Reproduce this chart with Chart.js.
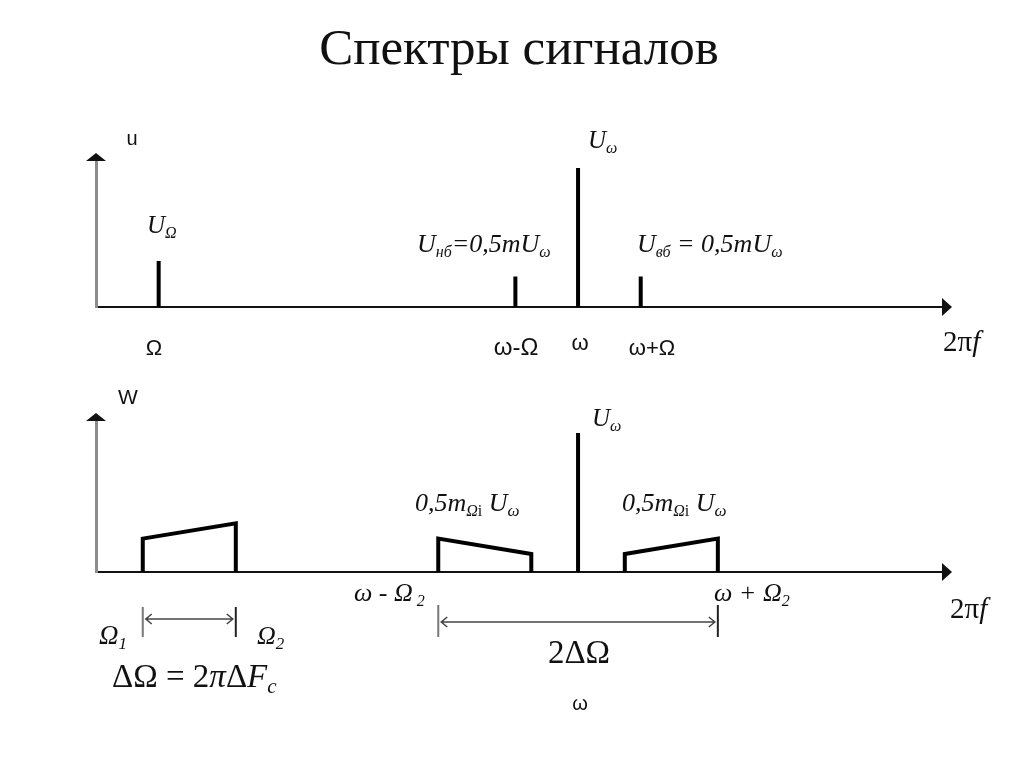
<!DOCTYPE html>
<html>
<head>
<meta charset="utf-8">
<title>Спектры сигналов</title>
<script src="https://cdn.jsdelivr.net/npm/chart.js@4"></script>
<style>
body { margin: 0; background: #fff; }
#wrap { position: relative; width: 1024px; height: 767px; }
canvas { position: absolute; left: 0; }
#topChart { top: 0; }
#bottomChart { top: 380px; }
</style>
</head>
<body>
<div id="wrap">
  <canvas id="topChart" width="1024" height="380"></canvas>
  <canvas id="bottomChart" width="1024" height="387"></canvas>
</div>
<script>
// frequency axis in arbitrary units, carrier w = 100
var carrier = 100;
var modFreq = 13;      // Ω
var bandLow = 9.7;     // Ω1
var bandHigh = 29;     // Ω2
var xMax = 175.5;

// top spectrum: tone modulation, amplitudes relative to Uω
var toneFreqs = [modFreq, carrier - modFreq, carrier, carrier + modFreq];
var toneAmps = [0.33, 0.22, 1, 0.22];

// bottom spectrum: band signal, levels at the band edges
var carrierAmp = 1;
var baseBandLevels = [0.24, 0.35];
var lowerSideLevels = [0.24, 0.13];
var upperSideLevels = [0.13, 0.24];

var SERIF = '"Liberation Serif", "Times New Roman", serif';
var SANS = '"Liberation Sans", Arial, sans-serif';

function sticks(freqs, amps) {
    var pts = [];
    freqs.forEach(function (f, i) {
        pts.push({ x: f, y: 0 }, { x: f, y: amps[i] }, { x: f, y: null });
    });
    return pts;
}

function band(x0, x1, levels) {
    return [{ x: x0, y: 0 }, { x: x0, y: levels[0] }, { x: x1, y: levels[1] }, { x: x1, y: 0 }];
}

function lineSet(data) {
    return {
        data: data,
        showLine: true,
        borderColor: '#000',
        borderWidth: 4,
        borderCapStyle: 'butt',
        borderJoinStyle: 'miter',
        pointRadius: 0,
        spanGaps: false,
        tension: 0
    };
}

function axes(yMax) {
    return {
        x: {
            type: 'linear', min: 0, max: xMax,
            grid: { display: false, drawTicks: false },
            ticks: { display: false },
            border: { display: true, color: '#111', width: 2 }
        },
        y: {
            type: 'linear', min: 0, max: yMax,
            grid: { display: false, drawTicks: false },
            ticks: { display: false },
            border: { display: true, color: '#8c8c8c', width: 3 }
        }
    };
}

// text runs
function it(t, s, dy) { return { t: t, f: 'italic ' + s + 'px ' + SERIF, dy: dy || 0 }; }
function rm(t, s, dy) { return { t: t, f: s + 'px ' + SERIF, dy: dy || 0 }; }
function sans(t, s) { return { t: t, f: s + 'px ' + SANS, dy: 0 }; }

function richText(ctx, lab) {
    var w = 0;
    lab.r.forEach(function (r) { ctx.font = r.f; r.w = ctx.measureText(r.t).width; w += r.w; });
    var cx = lab.a === 'center' ? lab.x - w / 2 : lab.x;
    ctx.textAlign = 'left';
    ctx.textBaseline = 'alphabetic';
    ctx.fillStyle = '#111';
    lab.r.forEach(function (r) {
        ctx.font = r.f;
        ctx.fillText(r.t, cx, lab.y + r.dy);
        cx += r.w;
    });
}

function arrows(ctx, area) {
    ctx.fillStyle = '#111';
    ctx.beginPath();
    ctx.moveTo(area.left, area.top - 8);
    ctx.lineTo(area.left - 10, area.top);
    ctx.lineTo(area.left + 10, area.top);
    ctx.closePath();
    ctx.fill();
    ctx.beginPath();
    ctx.moveTo(area.right + 10, area.bottom);
    ctx.lineTo(area.right, area.bottom - 9);
    ctx.lineTo(area.right, area.bottom + 9);
    ctx.closePath();
    ctx.fill();
}

function dimension(ctx, x0, x1, t0, t1, y) {
    ctx.save();
    ctx.lineWidth = 2;
    ctx.strokeStyle = '#777';
    ctx.beginPath();
    ctx.moveTo(x0, t0); ctx.lineTo(x0, t1);
    ctx.stroke();
    ctx.strokeStyle = '#222';
    ctx.beginPath();
    ctx.moveTo(x1, t0); ctx.lineTo(x1, t1);
    ctx.stroke();
    ctx.strokeStyle = '#444';
    ctx.lineWidth = 1.5;
    ctx.beginPath();
    ctx.moveTo(x0 + 3, y); ctx.lineTo(x1 - 3, y);
    ctx.moveTo(x0 + 9, y - 5); ctx.lineTo(x0 + 3, y); ctx.lineTo(x0 + 9, y + 5);
    ctx.moveTo(x1 - 9, y - 5); ctx.lineTo(x1 - 3, y); ctx.lineTo(x1 - 9, y + 5);
    ctx.stroke();
    ctx.restore();
}

function decor(labels, extra) {
    return {
        id: 'decor',
        afterDraw: function (chart) {
            var ctx = chart.ctx;
            ctx.save();
            arrows(ctx, chart.chartArea);
            labels.forEach(function (lab) { richText(ctx, lab); });
            if (extra) extra(chart);
            ctx.restore();
        }
    };
}

var topLabels = [
    { x: 132, y: 145, a: 'center', r: [sans('u', 20)] },
    { x: 147, y: 233, a: 'left', r: [it('U', 25), it('Ω', 16, 5)] },
    { x: 154, y: 355, a: 'center', r: [sans('Ω', 22)] },
    { x: 516, y: 355, a: 'center', r: [sans('ω-Ω', 24)] },
    { x: 580, y: 350, a: 'center', r: [sans('ω', 22)] },
    { x: 652, y: 355, a: 'center', r: [sans('ω+Ω', 22)] },
    { x: 943, y: 351, a: 'left', r: [rm('2π', 29), it('f', 29)] },
    { x: 588, y: 148, a: 'left', r: [it('U', 25), it('ω', 16, 5)] },
    { x: 417, y: 252, a: 'left', r: [it('U', 26), it('нб', 16, 5), it('=0,5mU', 26), it('ω', 16, 5)] },
    { x: 637, y: 252, a: 'left', r: [it('U', 26), it('вб', 16, 5), it(' = 0,5mU', 26), it('ω', 16, 5)] }
];

var bottomLabels = [
    { x: 128, y: 24, a: 'center', r: [sans('W', 21)] },
    { x: 592, y: 46, a: 'left', r: [it('U', 25), it('ω', 16, 5)] },
    { x: 415, y: 131, a: 'left', r: [it('0,5m', 26), it('Ω', 16, 5), rm('i', 16, 5), it(' U', 26), it('ω', 17, 5)] },
    { x: 622, y: 131, a: 'left', r: [it('0,5m', 26), it('Ω', 16, 5), rm('i', 16, 5), it(' U', 26), it('ω', 17, 5)] },
    { x: 354, y: 221, a: 'left', r: [it('ω - Ω', 26), it(' 2', 16, 5)] },
    { x: 714, y: 221, a: 'left', r: [it('ω + Ω', 26), it('2', 16, 5)] },
    { x: 950, y: 238, a: 'left', r: [rm('2π', 29), it('f', 29)] },
    { x: 99, y: 264, a: 'left', r: [it('Ω', 27), it('1', 17, 5)] },
    { x: 257, y: 264, a: 'left', r: [it('Ω', 26), it('2', 17, 5)] },
    { x: 112, y: 307, a: 'left', r: [rm('ΔΩ = 2', 33), it('π', 33), rm('Δ', 33), it('F', 33), it('c', 21, 6)] },
    { x: 579, y: 283, a: 'center', r: [rm('2ΔΩ', 33)] },
    { x: 580, y: 330, a: 'center', r: [sans('ω', 20)] }
];

var ctx1 = document.getElementById('topChart').getContext('2d');
var topChart = new Chart(ctx1, {
    type: 'scatter',
    data: { datasets: [lineSet(sticks(toneFreqs, toneAmps))] },
    options: {
        responsive: false,
        animation: false,
        events: [],
        layout: { autoPadding: false, padding: { left: 96, right: 82, top: 0, bottom: 73 } },
        scales: axes(1.05),
        plugins: {
            legend: { display: false },
            tooltip: { enabled: false },
            title: {
                display: true,
                text: 'Спектры сигналов',
                color: '#111',
                font: { family: SERIF, size: 51, weight: 'normal', lineHeight: 1.2 },
                padding: { top: 20, bottom: 79.8 }
            }
        }
    },
    plugins: [decor(topLabels)]
});

var ctx2 = document.getElementById('bottomChart').getContext('2d');
var bottomChart = new Chart(ctx2, {
    type: 'scatter',
    data: {
        datasets: [
            lineSet(band(bandLow, bandHigh, baseBandLevels)),
            lineSet(band(carrier - bandHigh, carrier - bandLow, lowerSideLevels)),
            lineSet(sticks([carrier], [carrierAmp])),
            lineSet(band(carrier + bandLow, carrier + bandHigh, upperSideLevels))
        ]
    },
    options: {
        responsive: false,
        animation: false,
        events: [],
        layout: { autoPadding: false, padding: { left: 96, right: 82, top: 41, bottom: 195 } },
        scales: axes(1.086),
        plugins: { legend: { display: false }, tooltip: { enabled: false } }
    },
    plugins: [decor(bottomLabels, function (chart) {
        var xs = chart.scales.x;
        dimension(chart.ctx, xs.getPixelForValue(bandLow), xs.getPixelForValue(bandHigh), 227, 257, 239);
        dimension(chart.ctx, xs.getPixelForValue(carrier - bandHigh), xs.getPixelForValue(carrier + bandHigh), 225, 257, 242);
    })]
});
</script>
</body>
</html>
